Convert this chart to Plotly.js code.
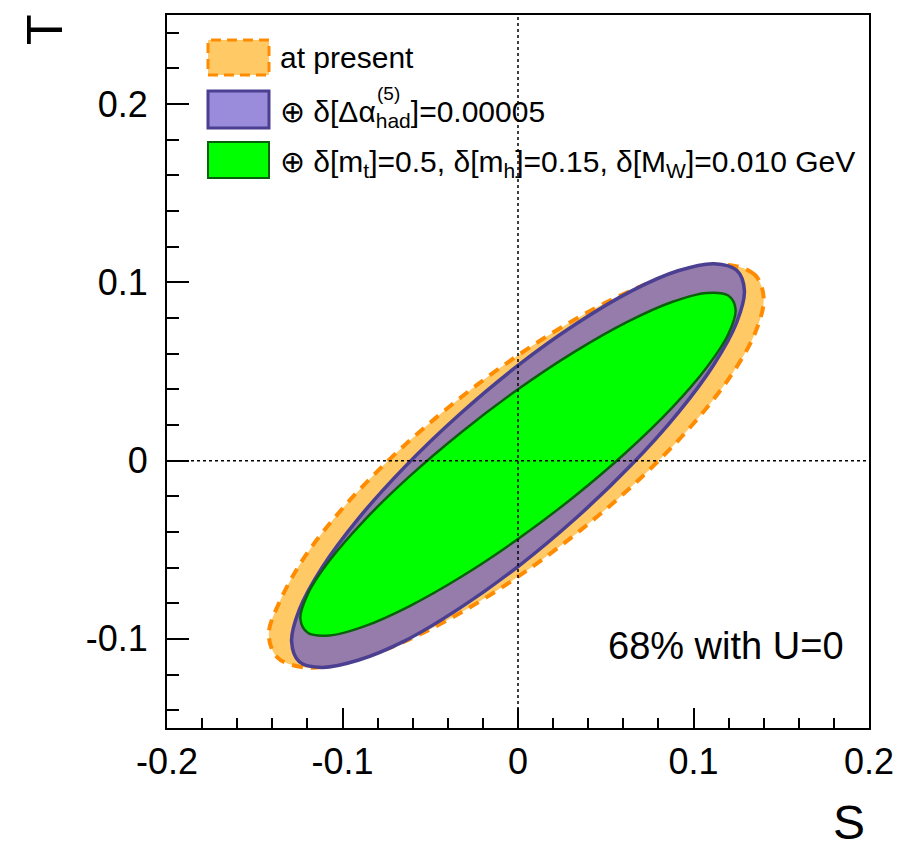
<!DOCTYPE html>
<html><head><meta charset="utf-8">
<script src="https://cdn.plot.ly/plotly-3.0.1.min.js"></script>
<style>html,body{margin:0;padding:0;background:#fff}#chart{width:916px;height:849px}</style>
</head><body><div id="chart"></div>
<script>
// ---- data ----
const xTickVals = [-0.2, -0.1, 0, 0.1, 0.2];
const xTickText = ["-0.2", "-0.1", "0", "0.1", "0.2"];
const yTickVals = [-0.1, 0, 0.1, 0.2];
const yTickText = ["-0.1", "0", "0.1", "0.2"];

const seriesNames = ["at present", "\u2295 \u03b4[\u0394\u03b1had]=0.00005", "\u2295 \u03b4[mt]=0.5, \u03b4[mh]=0.15, \u03b4[MW]=0.010 GeV"];

const presentS = [0.1400, 0.1352, 0.1212, 0.0990, 0.0700, 0.0362, 0, -0.0362, -0.0700, -0.0990, -0.1212, -0.1352, -0.1420, -0.1370, -0.1215, -0.0990, -0.0700, -0.0362, 0, 0.0362, 0.0700, 0.0990, 0.1212, 0.1352, 0.1400];
const presentT = [0.0912, 0.1040, 0.1096, 0.1075, 0.0978, 0.0813, 0.0591, 0.0326, 0.0037, -0.0257, -0.0535, -0.0779, -0.0975, -0.1105, -0.1160, -0.1135, -0.1038, -0.0873, -0.0651, -0.0386, -0.0097, 0.0197, 0.0475, 0.0719, 0.0912];

const alphaS = [0.1290, 0.1246, 0.1117, 0.0912, 0.0645, 0.0334, 0, -0.0334, -0.0645, -0.0912, -0.1117, -0.1246, -0.1290, -0.1246, -0.1117, -0.0912, -0.0645, -0.0334, 0, 0.0334, 0.0645, 0.0912, 0.1117, 0.1246, 0.1290];
const alphaT = [0.0955, 0.1068, 0.1105, 0.1065, 0.0951, 0.0769, 0.0534, 0.0259, -0.0035, -0.0328, -0.0601, -0.0836, -0.1015, -0.1128, -0.1160, -0.1120, -0.1011, -0.0829, -0.0594, -0.0319, -0.0025, 0.0268, 0.0541, 0.0776, 0.0955];

const massS = [0.1240, 0.1198, 0.1074, 0.0877, 0.0620, 0.0321, 0, -0.0321, -0.0620, -0.0877, -0.1074, -0.1198, -0.1240, -0.1198, -0.1074, -0.0877, -0.0620, -0.0321, 0, 0.0321, 0.0620, 0.0877, 0.1074, 0.1198, 0.1240];
const massT = [0.0847, 0.0926, 0.0941, 0.0890, 0.0777, 0.0610, 0.0400, 0.0161, -0.0090, -0.0336, -0.0561, -0.0749, -0.0887, -0.0966, -0.0981, -0.0930, -0.0817, -0.0650, -0.0440, -0.0201, 0.0050, 0.0296, 0.0521, 0.0709, 0.0847];

// ---- layout helpers ----
const W = 916, H = 849, ML = 167, MR = 47, MT = 15, MB = 121;
const PW = W - ML - MR, PH = H - MT - MB;
function px(x) { return (x - ML) / PW; }
function py(y) { return 1 - (y - MT) / PH; }
const FONT = "Liberation Sans, Arial, Helvetica, sans-serif";

const cOrangeFill = "#FFC966", cOrangeLine = "#FF8C00";
const cPurpleFill = "#967CAB", cPurpleLine = "#4B3F91", cPurpleLegend = "#9A8BDB";
const cGreenFill = "#00FF00", cGreenLine = "#0A5F0A";

const traces = [
  {x: presentS, y: presentT, type: "scatter", mode: "lines", fill: "toself", fillcolor: cOrangeFill,
   line: {color: cOrangeLine, width: 4, dash: "11px,8px", shape: "spline"}, name: seriesNames[0], hoverinfo: "skip"},
  {x: alphaS, y: alphaT, type: "scatter", mode: "lines", fill: "toself", fillcolor: cPurpleFill,
   line: {color: cPurpleLine, width: 3.5, shape: "spline"}, name: seriesNames[1], hoverinfo: "skip"},
  {x: massS, y: massT, type: "scatter", mode: "lines", fill: "toself", fillcolor: cGreenFill,
   line: {color: cGreenLine, width: 2.5, shape: "spline"}, name: seriesNames[2], hoverinfo: "skip"}
];

const axisCommon = {
  ticks: "inside", tickwidth: 2, tickcolor: "black",
  showline: true, linewidth: 2, linecolor: "black", mirror: true,
  showgrid: false, zeroline: false, fixedrange: true,
  tickfont: {family: FONT, size: 36, color: "black"}
};

const shapes = [
  {type: "line", xref: "x", yref: "paper", x0: 0, x1: 0, y0: 0, y1: 1, layer: "above", line: {color: "black", width: 1.5, dash: "dot"}},
  {type: "line", xref: "paper", yref: "y", x0: 0, x1: 1, y0: 0, y1: 0, layer: "above", line: {color: "black", width: 1.5, dash: "dot"}},
  {type: "rect", xref: "paper", yref: "paper", x0: px(208), x1: px(269), y0: py(75), y1: py(40), fillcolor: cOrangeFill, line: {color: cOrangeLine, width: 3, dash: "10px,6px"}, layer: "above"},
  {type: "rect", xref: "paper", yref: "paper", x0: px(208), x1: px(269), y0: py(128), y1: py(91), fillcolor: cPurpleLegend, line: {color: cPurpleLine, width: 3}, layer: "above"},
  {type: "rect", xref: "paper", yref: "paper", x0: px(208), x1: px(269), y0: py(178), y1: py(142), fillcolor: cGreenFill, line: {color: cGreenLine, width: 2}, layer: "above"}
];

const ann = (text, x, y, size, xa, ya, extra) => Object.assign({
  text: text, xref: "paper", yref: "paper", x: px(x), y: py(y), xanchor: xa, yanchor: ya,
  showarrow: false, font: {family: FONT, size: size, color: "black"}, borderpad: 0
}, extra || {});

const annotations = [
  ann("at present", 279, 57, 30, "left", "middle"),
  ann("\u2295 \u03b4[\u0394\u03b1<sub>had</sub>]=0.00005", 279, 113, 30, "left", "middle"),
  ann("(5)", 388, 94, 19, "center", "middle"),
  ann("\u2295 \u03b4[m<sub>t</sub>]=0.5, \u03b4[m<sub>h</sub>]=0.15, \u03b4[M<sub>W</sub>]=0.010 GeV", 279, 163, 30, "left", "middle"),
  ann("68% with U=0", 845, 646, 38, "right", "middle"),
  ann("T", 45, 29, 50, "center", "middle", {textangle: -90}),
  ann("S", 849, 822, 48, "center", "middle")
];

const layout = {
  width: W, height: H,
  margin: {l: ML, r: MR, t: MT, b: MB, pad: 0},
  paper_bgcolor: "white", plot_bgcolor: "white",
  showlegend: false,
  xaxis: Object.assign({}, axisCommon, {
    range: [-0.2, 0.2], tickmode: "array", tickvals: xTickVals, ticktext: xTickText, ticklen: 20,
    ticklabelstandoff: 1,
    minor: {tickmode: "linear", tick0: 0, dtick: 0.02, ticks: "inside", ticklen: 10, tickwidth: 2, tickcolor: "black", showgrid: false}
  }),
  yaxis: Object.assign({}, axisCommon, {
    range: [-0.15, 0.25], tickmode: "array", tickvals: yTickVals, ticktext: yTickText, ticklen: 22,
    ticklabelstandoff: 10,
    minor: {tickmode: "linear", tick0: 0, dtick: 0.02, ticks: "inside", ticklen: 12, tickwidth: 2, tickcolor: "black", showgrid: false}
  }),
  shapes: shapes,
  annotations: annotations
};

Plotly.newPlot("chart", traces, layout, {staticPlot: true, displayModeBar: false});
</script>
</body></html>
